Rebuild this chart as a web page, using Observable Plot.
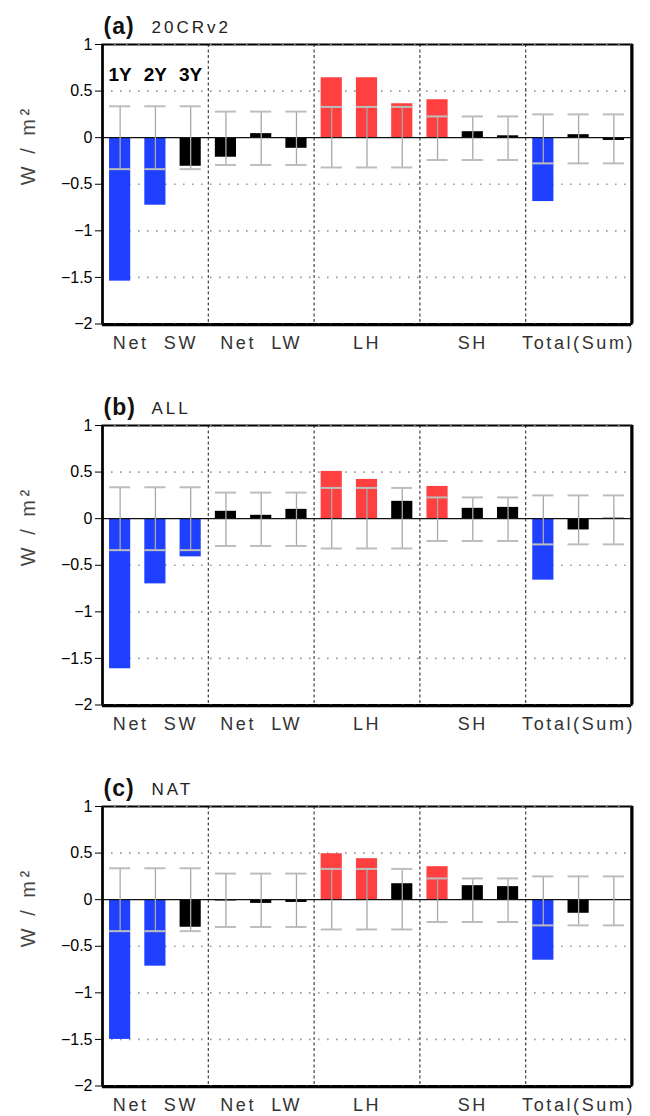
<!DOCTYPE html>
<html>
<head>
<meta charset="utf-8">
<script src="https://cdn.jsdelivr.net/npm/d3@7"></script>
<script src="https://cdn.jsdelivr.net/npm/@observablehq/plot@0.6"></script>
<style>
  body { margin: 0; background: #fff; }
  #chart svg { display: block; }
  text[aria-label="group-labels"], [aria-label="group-labels"] text { letter-spacing: 2.6px; }
  text[aria-label="unit-label"], [aria-label="unit-label"] text { letter-spacing: 3.5px; }
  text[aria-label="panel-name"], [aria-label="panel-name"] text { letter-spacing: 3px; }
  text[aria-label="panel-tag"], [aria-label="panel-tag"] text { letter-spacing: 1px; }
</style>
</head>
<body>
<div id="chart"></div>
<script>
// ---- data ----
const groups = ["Net  SW", "Net  LW", "LH", "SH", "Total(Sum)"];
const years = ["1Y", "2Y", "3Y"];
const panelTags = ["(a)", "(b)", "(c)"];
const panelNames = ["20CRv2", "ALL", "NAT"];
const yTicks = [1, 0.5, 0, -0.5, -1, -1.5, -2];
const gridValues = [0.5, -0.5, -1, -1.5];

// bar values, ordered group by group (1Y, 2Y, 3Y)
const values20CR = [-1.54, -0.725, -0.307, -0.21, 0.043, -0.114, 0.643, 0.643, 0.364, 0.407, 0.064, 0.02, -0.686, 0.032, -0.03];
const valuesALL  = [-1.611, -0.70, -0.41, 0.079, 0.036, 0.10, 0.507, 0.421, 0.186, 0.346, 0.111, 0.121, -0.66, -0.121, 0.005];
const valuesNAT  = [-1.50, -0.714, -0.296, -0.014, -0.04, -0.03, 0.493, 0.44, 0.171, 0.354, 0.15, 0.14, -0.65, -0.146, 0.0];

// significance (1 = coloured bar)
const sig20CR = [1, 1, 0, 0, 0, 0, 1, 1, 1, 1, 0, 0, 1, 0, 0];
const sigALL  = [1, 1, 1, 0, 0, 0, 1, 1, 0, 1, 0, 0, 1, 0, 0];
const sigNAT  = [1, 1, 0, 0, 0, 0, 1, 1, 0, 1, 0, 0, 1, 0, 0];

// error-bar range per group
const errHigh = [0.337, 0.28, 0.33, 0.228, 0.25];
const errLow  = [-0.338, -0.293, -0.32, -0.24, -0.276];

const panelValues = [values20CR, valuesALL, valuesNAT];
const panelSig = [sig20CR, sigALL, sigNAT];

const RED = "#ff4040";
const BLUE = "#2040ff";
const FONT = "'Liberation Sans', Arial, sans-serif";

function makePanel(p) {
  const n = years.length;
  const rows = panelValues[p].map((v, i) => {
    const gi = Math.floor(i / n);
    return {gi, yi: i % n, value: v, sig: panelSig[p][i], hi: errHigh[gi], lo: errLow[gi]};
  });
  const pos = d => d.gi * n + d.yi + 0.5;
  const half = 0.3;
  const color = d => d.sig ? (d.value > 0 ? RED : BLUE) : "black";
  const seps = d3.range(1, groups.length).map(g => g * n);
  const groupRows = groups.map((g, gi) => ({g, x: gi * n + n / 2}));

  const marks = [
    Plot.ruleY(gridValues, {stroke: "#9a9a9a", strokeWidth: 1.6, strokeDasharray: "1.6,7.4"}),
    Plot.ruleX(seps, {stroke: "#333", strokeWidth: 1.1, strokeDasharray: "3,2.5"}),
    Plot.rectY(rows, {x1: d => pos(d) - half, x2: d => pos(d) + half, y1: 0, y2: "value", fill: color}),
    Plot.ruleY([0], {stroke: "#111", strokeWidth: 1.3}),
    Plot.ruleX(rows, {x: pos, y1: "lo", y2: "hi", stroke: "#a8a8a8", strokeWidth: 1.3}),
    Plot.ruleY(rows, {y: "hi", x1: d => pos(d) - half, x2: d => pos(d) + half, stroke: "#bdbdbd", strokeWidth: 2}),
    Plot.ruleY(rows, {y: "lo", x1: d => pos(d) - half, x2: d => pos(d) + half, stroke: "#bdbdbd", strokeWidth: 2}),
    Plot.frame({stroke: "black", strokeWidth: 2}),
    Plot.ruleY([1, -2], {stroke: "#9a9a9a", strokeWidth: 1, strokeDasharray: "1.5,10.5"}),
    Plot.ruleX([groups.length * n], {stroke: "black", strokeWidth: 3, dx: 0.5}),
    Plot.ruleY([-2], {stroke: "black", strokeWidth: 2.5, dy: 1}),
    Plot.ruleX([0], {stroke: "black", strokeWidth: 2.5}),
    Plot.axisY({ticks: yTicks, tickFormat: d => String(d).replace("-", "\u2212"), tickSize: 7, tickPadding: 3,
      fontSize: 16, label: null, stroke: "black", fill: "black"}),
    Plot.text(groupRows, {x: "x", text: "g", frameAnchor: "bottom", dy: 25, lineAnchor: "bottom",
      fontSize: 18, fill: "#333", ariaLabel: () => "group-labels"}),
    Plot.text(["W / m²"], {frameAnchor: "left", rotate: -90, dx: -74, dy: 1,
      fontSize: 20, fill: "#444", ariaLabel: () => "unit-label"}),
    Plot.text([panelTags[p]], {frameAnchor: "top-left", dx: 1, dy: -11, lineAnchor: "bottom", textAnchor: "start",
      fontSize: 23, fontWeight: "bold", fill: "#111", ariaLabel: () => "panel-tag"}),
    Plot.text([panelNames[p]], {frameAnchor: "top-left", dx: 49, dy: -12, lineAnchor: "bottom", textAnchor: "start",
      fontSize: 17, fill: "#222", ariaLabel: () => "panel-name"})
  ];
  if (p === 0) {
    marks.push(Plot.text(years, {x: (d, i) => i + 0.5, text: d => d, frameAnchor: "top", dy: 36, lineAnchor: "bottom",
      fontSize: 19, fontWeight: "bold", fill: "black"}));
  }

  return Plot.plot({
    width: 650,
    height: 381,
    marginLeft: 102,
    marginRight: 19,
    marginTop: 44,
    marginBottom: 57.5,
    style: {fontFamily: FONT, background: "white", overflow: "visible"},
    x: {domain: [0, groups.length * n], axis: null},
    y: {domain: [-2, 1], axis: null},
    marks
  });
}

const root = document.getElementById("chart");
for (let p = 0; p < 3; p++) root.appendChild(makePanel(p));
</script>
</body>
</html>
